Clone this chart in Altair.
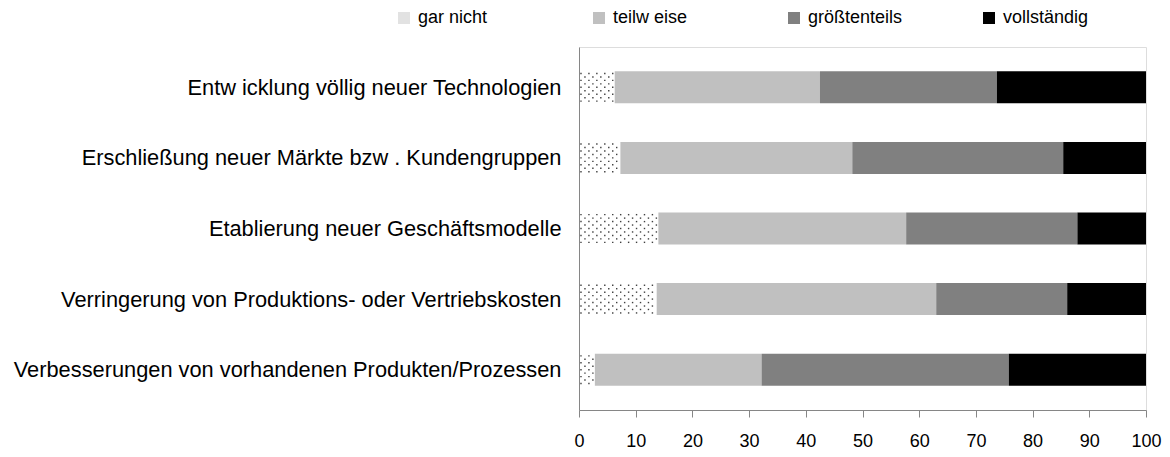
import altair as alt
import pandas as pd
import numpy as np

categories = [
    "Entw icklung völlig neuer Technologien",
    "Erschließung neuer Märkte bzw . Kundengruppen",
    "Etablierung neuer Geschäftsmodelle",
    "Verringerung von Produktions- oder Vertriebskosten",
    "Verbesserungen von vorhandenen Produkten/Prozessen",
]
levels = ["gar nicht", "teilw eise", "größtenteils", "vollständig"]
gar_nicht = [6.3, 7.3, 14.0, 13.7, 2.8]
teilweise = [36.2, 40.9, 43.7, 49.3, 29.4]
groesstenteils = [31.2, 37.2, 30.2, 23.1, 43.6]
vollstaendig = [26.3, 14.6, 12.1, 13.9, 24.2]
level_colors = ["#e2e2e2", "#c0c0c0", "#808080", "#000000"]
x_ticks = list(range(0, 101, 10))
row_index = list(range(len(categories)))

series = [gar_nicht, teilweise, groesstenteils, vollstaendig]
rows = []
for li, (lev, vals) in enumerate(zip(levels, series)):
    for ri, (cat, v) in enumerate(zip(categories, vals)):
        rows.append({"Kategorie": cat, "pos": ri, "Stufe": lev, "Wert": v, "idx": li})
df = pd.DataFrame(rows)

# dotted texture for the "gar nicht" segments (decorative only)
dot_rows = []
for ri, v in enumerate(gar_nicht):
    for r in range(9):
        start = 0.35 if r % 2 == 0 else 1.05
        for xx in np.arange(start, v - 0.2, 1.4):
            dot_rows.append({"pos": ri + (r - 4) * 0.049, "x": float(xx)})
dots_df = pd.DataFrame(dot_rows)

FONT = "Liberation Sans"
label_expr = "[" + ",".join("'" + c + "'" for c in categories) + "][datum.value]"

y_scale = alt.Scale(domain=[-0.5, len(categories) - 0.5], reverse=True, nice=False, zero=False)
x_scale = alt.Scale(domain=[0, 100], nice=False, padding=0)

bars = alt.Chart(df).mark_bar(size=32, orient="horizontal").encode(
    y=alt.Y(
        "pos:Q",
        scale=y_scale,
        axis=alt.Axis(
            title=None, ticks=False, grid=False, values=row_index, labelExpr=label_expr,
            labelFontSize=21.8, labelPadding=18, labelLimit=800,
            domainColor="#868686", labelColor="#000000", labelFont=FONT,
        ),
    ),
    x=alt.X(
        "Wert:Q",
        stack="zero",
        scale=x_scale,
        axis=alt.Axis(
            values=x_ticks, title=None, grid=False, labelFontSize=18, labelPadding=15,
            tickSize=7, tickColor="#868686", domainColor="#868686",
            labelColor="#000000", labelFont=FONT, labelFlush=False,
        ),
    ),
    color=alt.Color(
        "Stufe:N",
        sort=levels,
        scale=alt.Scale(domain=levels, range=level_colors),
        legend=alt.Legend(
            title=None, orient="none", legendX=-184, legendY=-38,
            direction="horizontal", columns=4, gridAlign="all", columnPadding=77,
            symbolType="square", symbolSize=144, symbolStrokeWidth=0,
            labelFontSize=18, labelOffset=5, labelFont=FONT, labelColor="#000000",
            padding=0,
        ),
    ),
    order=alt.Order("idx:Q"),
    fillOpacity=alt.condition("datum.Stufe == 'gar nicht'", alt.value(0), alt.value(1)),
)

dots = alt.Chart(dots_df).mark_square(size=2, color="#404040", opacity=1, filled=True).encode(
    y=alt.Y("pos:Q", scale=y_scale),
    x=alt.X("x:Q", scale=x_scale),
)

chart = alt.layer(bars, dots).properties(
    width=567,
    height=363,
    autosize=alt.AutoSizeParams(type="none"),
    padding={"left": 571, "top": 39, "right": 16, "bottom": 39},
).configure_view(stroke=None).configure(font=FONT)

chart.save("out.html", embed_options={"renderer": "svg", "actions": False})
